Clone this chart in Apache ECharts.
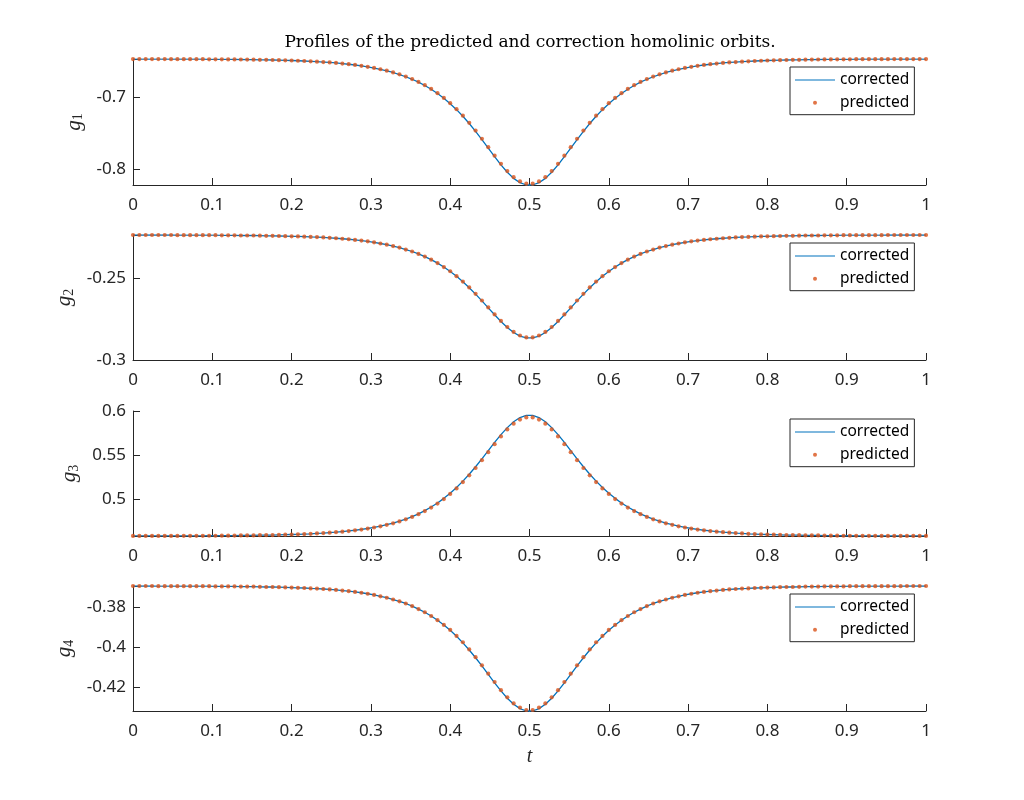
<!DOCTYPE html>
<html>
<head>
<meta charset="utf-8">
<title>homolinic orbits</title>
<script src="https://cdn.jsdelivr.net/npm/echarts@6/dist/echarts.min.js"></script>
<style>
  html, body { margin: 0; padding: 0; background: #fff; }
  #chart { width: 1024px; height: 800px; }
</style>
</head>
<body>
<div id="chart"></div>
<script>
// sample times (126 points, step 0.008)
var tValues = [
  0, 0.008, 0.016, 0.024, 0.032, 0.04, 0.048, 0.056, 0.064, 0.072,
  0.08, 0.088, 0.096, 0.104, 0.112, 0.12, 0.128, 0.136, 0.144, 0.152,
  0.16, 0.168, 0.176, 0.184, 0.192, 0.2, 0.208, 0.216, 0.224, 0.232,
  0.24, 0.248, 0.256, 0.264, 0.272, 0.28, 0.288, 0.296, 0.304, 0.312,
  0.32, 0.328, 0.336, 0.344, 0.352, 0.36, 0.368, 0.376, 0.384, 0.392,
  0.4, 0.408, 0.416, 0.424, 0.432, 0.44, 0.448, 0.456, 0.464, 0.472,
  0.48, 0.488, 0.496, 0.504, 0.512, 0.52, 0.528, 0.536, 0.544, 0.552,
  0.56, 0.568, 0.576, 0.584, 0.592, 0.6, 0.608, 0.616, 0.624, 0.632,
  0.64, 0.648, 0.656, 0.664, 0.672, 0.68, 0.688, 0.696, 0.704, 0.712,
  0.72, 0.728, 0.736, 0.744, 0.752, 0.76, 0.768, 0.776, 0.784, 0.792,
  0.8, 0.808, 0.816, 0.824, 0.832, 0.84, 0.848, 0.856, 0.864, 0.872,
  0.88, 0.888, 0.896, 0.904, 0.912, 0.92, 0.928, 0.936, 0.944, 0.952,
  0.96, 0.968, 0.976, 0.984, 0.992, 1
];

var g1Corrected = [
  -0.6473, -0.6473, -0.6473, -0.6473, -0.6473, -0.6473, -0.6474, -0.6474, -0.6474, -0.6474,
  -0.6475, -0.6475, -0.6476, -0.6476, -0.6477, -0.6478, -0.6478, -0.6479, -0.6480, -0.6481,
  -0.6483, -0.6484, -0.6486, -0.6488, -0.6491, -0.6493, -0.6496, -0.6500, -0.6504, -0.6509,
  -0.6514, -0.6520, -0.6527, -0.6535, -0.6545, -0.6555, -0.6567, -0.6581, -0.6597, -0.6615,
  -0.6636, -0.6659, -0.6687, -0.6718, -0.6753, -0.6793, -0.6839, -0.6891, -0.6950, -0.7016,
  -0.7091, -0.7174, -0.7266, -0.7366, -0.7474, -0.7589, -0.7707, -0.7825, -0.7939, -0.8041,
  -0.8126, -0.8186, -0.8218,
  -0.8218, -0.8186, -0.8126, -0.8041, -0.7939, -0.7825, -0.7707, -0.7589, -0.7474, -0.7366,
  -0.7266, -0.7174, -0.7091, -0.7016, -0.6950, -0.6891, -0.6839, -0.6793, -0.6753, -0.6718,
  -0.6687, -0.6659, -0.6636, -0.6615, -0.6597, -0.6581, -0.6567, -0.6555, -0.6545, -0.6535,
  -0.6527, -0.6520, -0.6514, -0.6509, -0.6504, -0.6500, -0.6496, -0.6493, -0.6491, -0.6488,
  -0.6486, -0.6484, -0.6483, -0.6481, -0.6480, -0.6479, -0.6478, -0.6478, -0.6477, -0.6476,
  -0.6476, -0.6475, -0.6475, -0.6474, -0.6474, -0.6474, -0.6474, -0.6473, -0.6473, -0.6473,
  -0.6473, -0.6473, -0.6473
];
var g1Predicted = [
  -0.6473, -0.6473, -0.6473, -0.6473, -0.6473, -0.6473, -0.6474, -0.6474, -0.6474, -0.6474,
  -0.6475, -0.6475, -0.6476, -0.6476, -0.6477, -0.6478, -0.6478, -0.6479, -0.6480, -0.6481,
  -0.6483, -0.6484, -0.6486, -0.6488, -0.6491, -0.6493, -0.6496, -0.6500, -0.6504, -0.6509,
  -0.6514, -0.6520, -0.6527, -0.6535, -0.6544, -0.6554, -0.6566, -0.6580, -0.6596, -0.6614,
  -0.6634, -0.6658, -0.6684, -0.6715, -0.6750, -0.6790, -0.6835, -0.6887, -0.6945, -0.7011,
  -0.7084, -0.7167, -0.7258, -0.7357, -0.7464, -0.7577, -0.7694, -0.7812, -0.7924, -0.8025,
  -0.8109, -0.8169, -0.8200,
  -0.8200, -0.8169, -0.8109, -0.8025, -0.7924, -0.7812, -0.7694, -0.7577, -0.7464, -0.7357,
  -0.7258, -0.7167, -0.7084, -0.7011, -0.6945, -0.6887, -0.6835, -0.6790, -0.6750, -0.6715,
  -0.6684, -0.6658, -0.6634, -0.6614, -0.6596, -0.6580, -0.6566, -0.6554, -0.6544, -0.6535,
  -0.6527, -0.6520, -0.6514, -0.6509, -0.6504, -0.6500, -0.6496, -0.6493, -0.6491, -0.6488,
  -0.6486, -0.6484, -0.6483, -0.6481, -0.6480, -0.6479, -0.6478, -0.6478, -0.6477, -0.6476,
  -0.6476, -0.6475, -0.6475, -0.6474, -0.6474, -0.6474, -0.6474, -0.6473, -0.6473, -0.6473,
  -0.6473, -0.6473, -0.6473
];

var g2Corrected = [
  -0.2235, -0.2235, -0.2235, -0.2235, -0.2235, -0.2235, -0.2235, -0.2236, -0.2236, -0.2236,
  -0.2236, -0.2236, -0.2236, -0.2236, -0.2237, -0.2237, -0.2237, -0.2238, -0.2238, -0.2238,
  -0.2239, -0.2240, -0.2240, -0.2241, -0.2242, -0.2243, -0.2244, -0.2245, -0.2247, -0.2248,
  -0.2250, -0.2252, -0.2255, -0.2258, -0.2261, -0.2265, -0.2269, -0.2274, -0.2280, -0.2287,
  -0.2294, -0.2303, -0.2312, -0.2324, -0.2336, -0.2351, -0.2367, -0.2386, -0.2407, -0.2431,
  -0.2458, -0.2488, -0.2521, -0.2558, -0.2597, -0.2638, -0.2681, -0.2723, -0.2764, -0.2801,
  -0.2832, -0.2854, -0.2865,
  -0.2865, -0.2854, -0.2832, -0.2801, -0.2764, -0.2723, -0.2681, -0.2638, -0.2597, -0.2558,
  -0.2521, -0.2488, -0.2458, -0.2431, -0.2407, -0.2386, -0.2367, -0.2351, -0.2336, -0.2324,
  -0.2312, -0.2303, -0.2294, -0.2287, -0.2280, -0.2274, -0.2269, -0.2265, -0.2261, -0.2258,
  -0.2255, -0.2252, -0.2250, -0.2248, -0.2247, -0.2245, -0.2244, -0.2243, -0.2242, -0.2241,
  -0.2240, -0.2240, -0.2239, -0.2238, -0.2238, -0.2238, -0.2237, -0.2237, -0.2237, -0.2236,
  -0.2236, -0.2236, -0.2236, -0.2236, -0.2236, -0.2236, -0.2235, -0.2235, -0.2235, -0.2235,
  -0.2235, -0.2235, -0.2235
];
var g2Predicted = [
  -0.2235, -0.2235, -0.2235, -0.2235, -0.2235, -0.2235, -0.2235, -0.2236, -0.2236, -0.2236,
  -0.2236, -0.2236, -0.2236, -0.2236, -0.2237, -0.2237, -0.2237, -0.2238, -0.2238, -0.2238,
  -0.2239, -0.2240, -0.2240, -0.2241, -0.2242, -0.2243, -0.2244, -0.2245, -0.2247, -0.2248,
  -0.2250, -0.2252, -0.2255, -0.2258, -0.2261, -0.2265, -0.2269, -0.2274, -0.2280, -0.2287,
  -0.2294, -0.2303, -0.2312, -0.2324, -0.2336, -0.2351, -0.2367, -0.2386, -0.2407, -0.2431,
  -0.2457, -0.2487, -0.2520, -0.2556, -0.2595, -0.2636, -0.2678, -0.2721, -0.2761, -0.2798,
  -0.2828, -0.2850, -0.2862,
  -0.2862, -0.2850, -0.2828, -0.2798, -0.2761, -0.2721, -0.2678, -0.2636, -0.2595, -0.2556,
  -0.2520, -0.2487, -0.2457, -0.2431, -0.2407, -0.2386, -0.2367, -0.2351, -0.2336, -0.2324,
  -0.2312, -0.2303, -0.2294, -0.2287, -0.2280, -0.2274, -0.2269, -0.2265, -0.2261, -0.2258,
  -0.2255, -0.2252, -0.2250, -0.2248, -0.2247, -0.2245, -0.2244, -0.2243, -0.2242, -0.2241,
  -0.2240, -0.2240, -0.2239, -0.2238, -0.2238, -0.2238, -0.2237, -0.2237, -0.2237, -0.2236,
  -0.2236, -0.2236, -0.2236, -0.2236, -0.2236, -0.2236, -0.2235, -0.2235, -0.2235, -0.2235,
  -0.2235, -0.2235, -0.2235
];

var g3Corrected = [
  0.4586, 0.4586, 0.4586, 0.4586, 0.4586, 0.4586, 0.4586, 0.4586, 0.4587, 0.4587,
  0.4587, 0.4587, 0.4588, 0.4588, 0.4589, 0.4589, 0.4590, 0.4591, 0.4591, 0.4592,
  0.4594, 0.4595, 0.4596, 0.4598, 0.4600, 0.4602, 0.4604, 0.4607, 0.4610, 0.4614,
  0.4618, 0.4623, 0.4628, 0.4635, 0.4642, 0.4650, 0.4660, 0.4670, 0.4683, 0.4697,
  0.4713, 0.4732, 0.4753, 0.4777, 0.4805, 0.4836, 0.4872, 0.4913, 0.4959, 0.5011,
  0.5069, 0.5134, 0.5206, 0.5284, 0.5369, 0.5459, 0.5551, 0.5644, 0.5732, 0.5812,
  0.5879, 0.5926, 0.5951,
  0.5951, 0.5926, 0.5879, 0.5812, 0.5732, 0.5644, 0.5551, 0.5459, 0.5369, 0.5284,
  0.5206, 0.5134, 0.5069, 0.5011, 0.4959, 0.4913, 0.4872, 0.4836, 0.4805, 0.4777,
  0.4753, 0.4732, 0.4713, 0.4697, 0.4683, 0.4670, 0.4660, 0.4650, 0.4642, 0.4635,
  0.4628, 0.4623, 0.4618, 0.4614, 0.4610, 0.4607, 0.4604, 0.4602, 0.4600, 0.4598,
  0.4596, 0.4595, 0.4594, 0.4592, 0.4591, 0.4591, 0.4590, 0.4589, 0.4589, 0.4588,
  0.4588, 0.4587, 0.4587, 0.4587, 0.4587, 0.4586, 0.4586, 0.4586, 0.4586, 0.4586,
  0.4586, 0.4586, 0.4586
];
var g3Predicted = [
  0.4586, 0.4586, 0.4586, 0.4586, 0.4586, 0.4586, 0.4586, 0.4586, 0.4587, 0.4587,
  0.4587, 0.4587, 0.4588, 0.4588, 0.4589, 0.4589, 0.4590, 0.4591, 0.4591, 0.4592,
  0.4594, 0.4595, 0.4596, 0.4598, 0.4600, 0.4602, 0.4604, 0.4607, 0.4610, 0.4614,
  0.4618, 0.4623, 0.4628, 0.4634, 0.4641, 0.4649, 0.4658, 0.4669, 0.4681, 0.4695,
  0.4711, 0.4729, 0.4750, 0.4774, 0.4801, 0.4832, 0.4867, 0.4907, 0.4952, 0.5003,
  0.5061, 0.5124, 0.5195, 0.5272, 0.5355, 0.5443, 0.5534, 0.5625, 0.5712, 0.5791,
  0.5856, 0.5903, 0.5927,
  0.5927, 0.5903, 0.5856, 0.5791, 0.5712, 0.5625, 0.5534, 0.5443, 0.5355, 0.5272,
  0.5195, 0.5124, 0.5061, 0.5003, 0.4952, 0.4907, 0.4867, 0.4832, 0.4801, 0.4774,
  0.4750, 0.4729, 0.4711, 0.4695, 0.4681, 0.4669, 0.4658, 0.4649, 0.4641, 0.4634,
  0.4628, 0.4623, 0.4618, 0.4614, 0.4610, 0.4607, 0.4604, 0.4602, 0.4600, 0.4598,
  0.4596, 0.4595, 0.4594, 0.4592, 0.4591, 0.4591, 0.4590, 0.4589, 0.4589, 0.4588,
  0.4588, 0.4587, 0.4587, 0.4587, 0.4587, 0.4586, 0.4586, 0.4586, 0.4586, 0.4586,
  0.4586, 0.4586, 0.4586
];

var g4Corrected = [
  -0.3693, -0.3693, -0.3693, -0.3693, -0.3694, -0.3694, -0.3694, -0.3694, -0.3694, -0.3694,
  -0.3694, -0.3694, -0.3694, -0.3695, -0.3695, -0.3695, -0.3695, -0.3696, -0.3696, -0.3696,
  -0.3697, -0.3698, -0.3698, -0.3699, -0.3700, -0.3701, -0.3702, -0.3703, -0.3705, -0.3706,
  -0.3708, -0.3710, -0.3713, -0.3716, -0.3719, -0.3723, -0.3727, -0.3732, -0.3738, -0.3745,
  -0.3752, -0.3761, -0.3770, -0.3781, -0.3794, -0.3809, -0.3825, -0.3844, -0.3865, -0.3889,
  -0.3916, -0.3946, -0.3979, -0.4015, -0.4054, -0.4095, -0.4138, -0.4180, -0.4221, -0.4258,
  -0.4288, -0.4310, -0.4322,
  -0.4322, -0.4310, -0.4288, -0.4258, -0.4221, -0.4180, -0.4138, -0.4095, -0.4054, -0.4015,
  -0.3979, -0.3946, -0.3916, -0.3889, -0.3865, -0.3844, -0.3825, -0.3809, -0.3794, -0.3781,
  -0.3770, -0.3761, -0.3752, -0.3745, -0.3738, -0.3732, -0.3727, -0.3723, -0.3719, -0.3716,
  -0.3713, -0.3710, -0.3708, -0.3706, -0.3705, -0.3703, -0.3702, -0.3701, -0.3700, -0.3699,
  -0.3698, -0.3698, -0.3697, -0.3696, -0.3696, -0.3696, -0.3695, -0.3695, -0.3695, -0.3695,
  -0.3694, -0.3694, -0.3694, -0.3694, -0.3694, -0.3694, -0.3694, -0.3694, -0.3694, -0.3693,
  -0.3693, -0.3693, -0.3693
];
var g4Predicted = [
  -0.3693, -0.3693, -0.3693, -0.3693, -0.3694, -0.3694, -0.3694, -0.3694, -0.3694, -0.3694,
  -0.3694, -0.3694, -0.3694, -0.3695, -0.3695, -0.3695, -0.3695, -0.3696, -0.3696, -0.3696,
  -0.3697, -0.3698, -0.3698, -0.3699, -0.3700, -0.3701, -0.3702, -0.3703, -0.3705, -0.3706,
  -0.3708, -0.3710, -0.3713, -0.3716, -0.3719, -0.3723, -0.3727, -0.3732, -0.3738, -0.3745,
  -0.3752, -0.3761, -0.3770, -0.3781, -0.3794, -0.3809, -0.3825, -0.3844, -0.3865, -0.3889,
  -0.3914, -0.3944, -0.3976, -0.4012, -0.4051, -0.4092, -0.4134, -0.4176, -0.4217, -0.4253,
  -0.4284, -0.4305, -0.4317,
  -0.4317, -0.4305, -0.4284, -0.4253, -0.4217, -0.4176, -0.4134, -0.4092, -0.4051, -0.4012,
  -0.3976, -0.3944, -0.3914, -0.3889, -0.3865, -0.3844, -0.3825, -0.3809, -0.3794, -0.3781,
  -0.3770, -0.3761, -0.3752, -0.3745, -0.3738, -0.3732, -0.3727, -0.3723, -0.3719, -0.3716,
  -0.3713, -0.3710, -0.3708, -0.3706, -0.3705, -0.3703, -0.3702, -0.3701, -0.3700, -0.3699,
  -0.3698, -0.3698, -0.3697, -0.3696, -0.3696, -0.3696, -0.3695, -0.3695, -0.3695, -0.3695,
  -0.3694, -0.3694, -0.3694, -0.3694, -0.3694, -0.3694, -0.3694, -0.3694, -0.3694, -0.3693,
  -0.3693, -0.3693, -0.3693
];

var xTicks = [0, 0.1, 0.2, 0.3, 0.4, 0.5, 0.6, 0.7, 0.8, 0.9, 1];
// y ranges and tick steps for the four panels
var yMin = [-0.8218, -0.3, 0.4585, -0.4322];
var yMax = [-0.6472, -0.2235, 0.6, -0.3693];
var yStep = [0.1, 0.05, 0.05, 0.02];
var yNames = ['1', '2', '3', '4'];

var titleText = 'Profiles of the predicted and correction homolinic orbits.';
var corrected = [g1Corrected, g2Corrected, g3Corrected, g4Corrected];
var predicted = [g1Predicted, g2Predicted, g3Predicted, g4Predicted];

var BLUE = '#0072BD';
var ORANGE = '#D95319';
var AXIS = '#262626';
var SANS = 'Noto Sans';
var SERIF = 'Liberation Serif';

var gridTop = [59, 235, 411, 586];
var gridH = [126, 125, 125, 125];

function pairs(ys) {
  return tValues.map(function (t, i) { return [t, ys[i]]; });
}

function tickFmt(step) {
  return function (v) {
    var r = Math.round(v / step);
    if (Math.abs(v - r * step) > 1e-7) return '';
    return String(+(r * step).toFixed(4));
  };
}

var myChart = echarts.init(document.getElementById('chart'), null, { renderer: 'canvas' });

var grids = [], xAxes = [], yAxes = [], series = [], legends = [];
for (var i = 0; i < 4; i++) {
  grids.push({ left: 133, right: 98, top: gridTop[i], height: gridH[i], containLabel: false, outerBoundsMode: 'none' });
  xAxes.push({
    type: 'value', gridIndex: i, min: xTicks[0], max: xTicks[xTicks.length - 1], interval: 0.1,
    axisLine: { show: true, onZero: false, lineStyle: { color: AXIS, width: 1 } },
    axisTick: { show: true, inside: true, length: 7, lineStyle: { color: AXIS } },
    axisLabel: { margin: 12, fontFamily: SANS, fontSize: 17, color: AXIS },
    splitLine: { show: false },
    name: i === 3 ? '{i|t}' : '',
    nameLocation: 'middle',
    nameGap: 36,
    nameTextStyle: { rich: { i: { fontFamily: SERIF, fontStyle: 'italic', fontSize: 20, color: AXIS } } }
  });
  yAxes.push({
    type: 'value', gridIndex: i, min: yMin[i], max: yMax[i],
    minInterval: yStep[i], maxInterval: yStep[i],
    axisLine: { show: true, onZero: false, lineStyle: { color: AXIS, width: 1 } },
    axisTick: { show: true, inside: true, length: 7, lineStyle: { color: AXIS } },
    axisLabel: { margin: 7, fontFamily: SANS, fontSize: 17, color: AXIS, formatter: tickFmt(yStep[i]) },
    splitLine: { show: false },
    name: '{i|g}{s|' + yNames[i] + '}',
    nameLocation: 'middle',
    nameRotate: 90,
    nameGap: 34,
    nameTextStyle: {
      rich: {
        i: { fontFamily: SERIF, fontStyle: 'italic', fontSize: 21, color: AXIS },
        s: { fontFamily: SERIF, fontSize: 14, color: AXIS, padding: [9, 0, 0, 0] }
      }
    }
  });
  series.push({
    name: 'corrected', type: 'line', xAxisIndex: i, yAxisIndex: i,
    data: pairs(corrected[i]), symbol: 'none', smooth: false,
    lineStyle: { color: BLUE, width: 1.3 }, itemStyle: { color: BLUE }, z: 2
  });
  series.push({
    name: 'predicted', type: 'scatter', xAxisIndex: i, yAxisIndex: i,
    data: pairs(predicted[i]), symbol: 'circle', symbolSize: 4.2,
    itemStyle: { color: ORANGE }, z: 3
  });
  legends.push({
    orient: 'vertical', left: 790, top: gridTop[i] + 8,
    itemWidth: 40, itemHeight: 14, itemGap: 6.7,
    padding: [5, 5, 4, 5],
    borderColor: AXIS, borderWidth: 1, backgroundColor: '#fff',
    selectedMode: false,
    textStyle: { fontFamily: SANS, fontSize: 15.5, color: '#000', lineHeight: 16 },
    data: [
      { name: 'corrected', icon: 'path://M0,0 M0,6.4 L40,6.4 L40,7.6 L0,7.6 Z M40,14', itemStyle: { color: BLUE, borderWidth: 0 } },
      { name: 'predicted', icon: 'path://M0,0 M18,7 A2,2 0 1 1 22,7 A2,2 0 1 1 18,7 Z M40,14', itemStyle: { color: ORANGE, borderWidth: 0 } }
    ]
  });
}

var option = {
  animation: false,
  backgroundColor: '#fff',
  grid: grids,
  xAxis: xAxes,
  yAxis: yAxes,
  legend: legends,
  series: series,
  graphic: [{
    type: 'text', x: 530, y: 43,
    style: { text: titleText, fontFamily: 'DejaVu Serif', fontSize: 17, fill: '#000', align: 'center', verticalAlign: 'middle' }
  }]
};
myChart.setOption(option);
</script>
</body>
</html>
